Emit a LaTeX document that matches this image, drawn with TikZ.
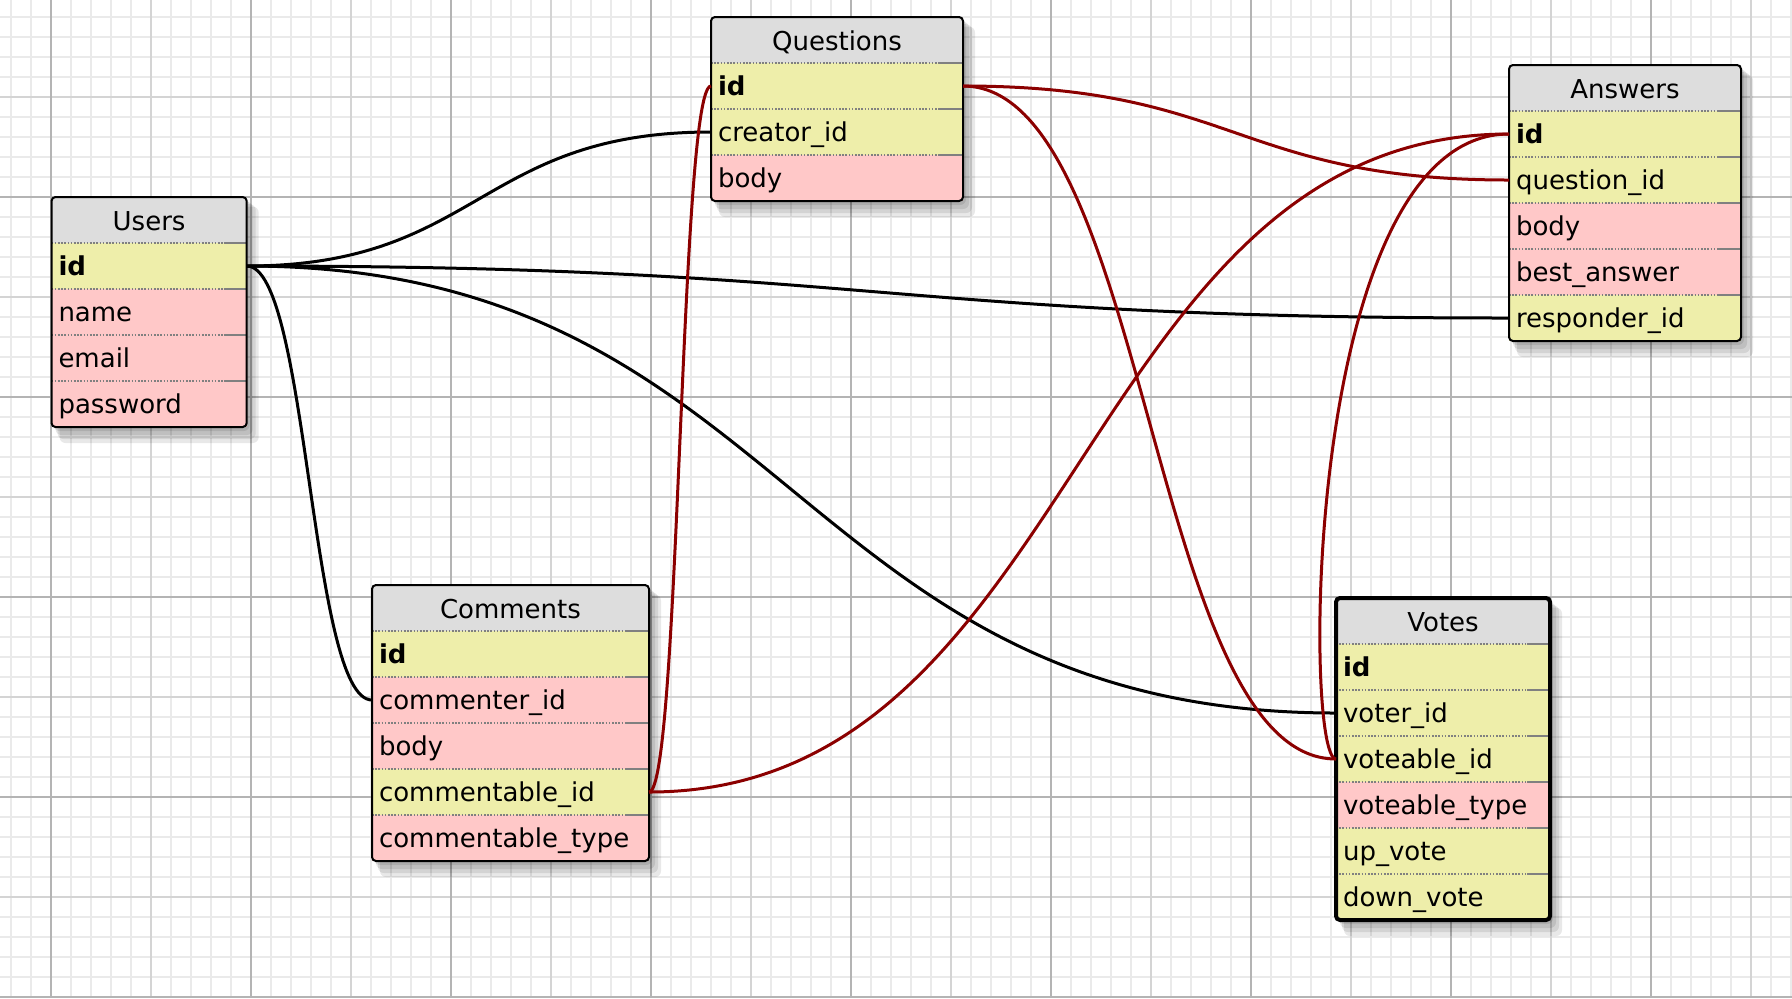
\documentclass[tikz,border=0pt]{standalone}
\usepackage{fontspec}
\setmainfont{DejaVu Sans}
\usetikzlibrary{positioning,fit,backgrounds}
\definecolor{hdgray}{RGB}{221,221,221}
\definecolor{numcol}{RGB}{238,238,170}
\definecolor{strcol}{RGB}{255,200,200}
\definecolor{relred}{RGB}{139,0,0}
\definecolor{sepgray}{RGB}{128,128,128}
\definecolor{gridlo}{RGB}{234,234,234}
\definecolor{gridmid}{RGB}{212,212,212}
\definecolor{gridhi}{RGB}{180,180,180}

\begin{document}
\begin{tikzpicture}[x=0.5pt,y=-0.5pt,
  font=\fontsize{13}{15}\selectfont,
  head/.style={rectangle, fill=hdgray, minimum height=23pt, inner xsep=3.5pt, inner ysep=0pt, outer sep=0pt, text height=11.5pt, text depth=1.5pt, align=center},
  fieldrow/.style={rectangle, fill=#1, minimum height=23pt, inner xsep=3.5pt, inner ysep=0pt, outer sep=0pt, text height=11pt, text depth=2pt, align=left},
  numrow/.style={fieldrow=numcol},
  strrow/.style={fieldrow=strcol},
  tblframe/.style={draw, line width=1pt, rounded corners=2pt, inner sep=0pt, outer sep=0pt},
  rowsep/.style={sepgray, line width=0.9pt, dash pattern=on 0.8pt off 0.8pt},
  rowsepend/.style={sepgray, line width=0.9pt},
  fkline/.style={line width=1.5pt, black},
  polyline/.style={line width=1.5pt, relred},
  shadowbox/.style={black, opacity=0.09, rounded corners=3pt},
  gridminor/.style={gridlo, line width=1pt},
  gridmedium/.style={gridmid, line width=1pt},
  gridmajor/.style={gridhi, line width=1pt}]
	\useasboundingbox (0,0) rectangle (1792,998);
	% paper grid
	\begin{scope}[on background layer]
		\fill[white] (0,0) rectangle (1792,998);
		\foreach \x in {11,31,...,1791} \draw[gridminor] (\x,0) -- (\x,998);
		\foreach \y in {17,37,...,997} \draw[gridminor] (0,\y) -- (1792,\y);
		\foreach \x in {151,351,...,1751} \draw[gridmedium] (\x,0) -- (\x,998);
		\foreach \y in {97,297,...,897} \draw[gridmedium] (0,\y) -- (1792,\y);
		\foreach \x in {51,251,...,1651} \draw[gridmajor] (\x,0) -- (\x,998);
		\foreach \y in {197,397,...,997} \draw[gridmajor] (0,\y) -- (1792,\y);
	\end{scope}
	% Users
	\begin{scope}[every node/.append style={text width=90.6pt}]
		\node[head, anchor=north west] (u-head) at (51.5,197) {Users};
		\node[numrow, below=0pt of u-head] (u-id) {\textbf{id}};
		\node[strrow, below=0pt of u-id] (u-name) {name};
		\node[strrow, below=0pt of u-name] (u-email) {email};
		\node[strrow, below=0pt of u-email] (u-pass) {password};
	\end{scope}
	% Questions
	\begin{scope}[every node/.append style={text width=119pt}]
		\node[head, anchor=north west] (q-head) at (711,17) {Questions};
		\node[numrow, below=0pt of q-head] (q-id) {\textbf{id}};
		\node[numrow, below=0pt of q-id] (q-creator) {creator\_id};
		\node[strrow, below=0pt of q-creator] (q-body) {body};
	\end{scope}
	% Answers
	\begin{scope}[every node/.append style={text width=109pt}]
		\node[head, anchor=north west] (a-head) at (1509,65) {Answers};
		\node[numrow, below=0pt of a-head] (a-id) {\textbf{id}};
		\node[numrow, below=0pt of a-id] (a-question) {question\_id};
		\node[strrow, below=0pt of a-question] (a-body) {body};
		\node[strrow, below=0pt of a-body] (a-best) {best\_answer};
		\node[numrow, below=0pt of a-best] (a-resp) {responder\_id};
	\end{scope}
	% Comments
	\begin{scope}[every node/.append style={text width=131.5pt}]
		\node[head, anchor=north west] (c-head) at (372,585) {Comments};
		\node[numrow, below=0pt of c-head] (c-id) {\textbf{id}};
		\node[strrow, below=0pt of c-id] (c-commenter) {commenter\_id};
		\node[strrow, below=0pt of c-commenter] (c-body) {body};
		\node[numrow, below=0pt of c-body] (c-ctid) {commentable\_id};
		\node[strrow, below=0pt of c-ctid] (c-cttype) {commentable\_type};
	\end{scope}
	% Votes
	\begin{scope}[every node/.append style={text width=100pt}]
		\node[head, anchor=north west] (v-head) at (1336,598) {Votes};
		\node[numrow, below=0pt of v-head] (v-id) {\textbf{id}};
		\node[numrow, below=0pt of v-id] (v-voter) {voter\_id};
		\node[numrow, below=0pt of v-voter] (v-vtid) {voteable\_id};
		\node[strrow, below=0pt of v-vtid] (v-vttype) {voteable\_type};
		\node[numrow, below=0pt of v-vttype] (v-up) {up\_vote};
		\node[numrow, below=0pt of v-up] (v-down) {down\_vote};
	\end{scope}
	% dotted row separators
	\foreach \r in {u-id,u-name,u-email,u-pass,q-id,q-creator,q-body,a-id,a-question,a-body,a-best,a-resp,c-id,c-commenter,c-body,c-ctid,c-cttype,v-id,v-voter,v-vtid,v-vttype,v-up,v-down} {
		\draw[rowsep] (\r.north west) -- ([xshift=-11.5pt]\r.north east);
		\draw[rowsepend] ([xshift=-11.5pt]\r.north east) -- (\r.north east);
	}
	\node[tblframe, fit=(u-head)(u-pass)] (users) {};
	\node[tblframe, fit=(q-head)(q-body)] (questions) {};
	\node[tblframe, fit=(a-head)(a-resp)] (answers) {};
	\node[tblframe, fit=(c-head)(c-cttype)] (comments) {};
	\node[tblframe, line width=2pt, fit=(v-head)(v-down)] (votes) {};
	\begin{scope}[on background layer]
		\foreach \t in {users,questions,answers,comments,votes}
			\foreach \s in {1,2,3,4}
				\fill[shadowbox] ([shift={(\s*1pt,-\s*1.2pt)}]\t.north west) rectangle ([shift={(\s*1.5pt,-\s*2pt)}]\t.south east);
	\end{scope}
	% relations
	\draw[fkline] (u-id.east) .. controls +(232,0) and +(-232,0) .. (q-creator.west);
	\draw[fkline] (u-id.east) .. controls +(631,0) and +(-631,0) .. (a-resp.west);
	\draw[fkline] (u-id.east) .. controls +(544,0) and +(-544,0) .. (v-voter.west);
	\draw[fkline] (u-id.east) .. controls +(62,0) and +(-62,0) .. (c-commenter.west);
	\draw[polyline] (q-id.west) .. controls +(-31,0) and +(31,0) .. (c-ctid.east);
	\draw[polyline] (c-ctid.east) .. controls +(430,0) and +(-430,0) .. (a-id.west);
	\draw[polyline] (q-id.east) .. controls +(273,0) and +(-273,0) .. (a-question.west);
	\draw[polyline] (q-id.east) .. controls +(186,0) and +(-186,0) .. (v-vtid.west);
	\draw[polyline] (a-id.west) .. controls +(-206,0) and +(-33,0) .. (v-vtid.west);
\end{tikzpicture}
\end{document}
